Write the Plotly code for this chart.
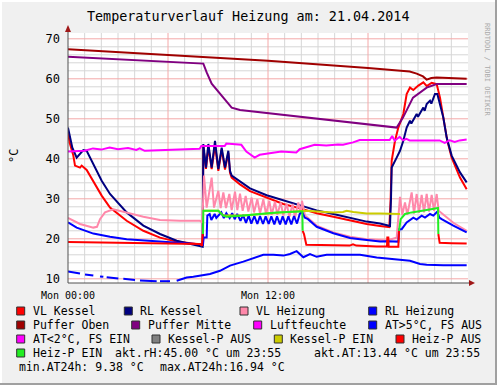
import plotly.graph_objects as go

# ---------------- data (hours since Mon 00:00, °C) ----------------
vl_kessel_t = [0, 0.1, 0.32, 0.42, 0.72, 0.82, 1.12, 1.52, 2.02, 2.52, 3.52, 4.52, 5.52, 6.52, 7.92, 8.08,
               8.12, 8.28, 8.42, 8.62, 8.82, 9.02, 9.22, 9.42, 9.62, 9.72, 9.82, 10.32, 10.92, 11.92, 12.92, 13.92,
               14.92, 15.92, 16.92, 17.92, 18.72, 19.28,
               19.36, 19.42, 19.62, 19.82, 20.12, 20.32, 20.52, 20.72, 21.02, 21.32, 21.52, 21.82, 22.12, 22.32,
               22.52, 22.76, 23.02, 23.52, 23.92]
vl_kessel_v = [46.6, 44.0, 40.8, 38.3, 37.8, 38.3, 37.2, 34.5, 30.8, 27.8, 24.5, 22.0, 20.3, 19.3, 18.7, 18.5,
               43.0, 37.5, 43.0, 37.4, 43.5, 37.0, 42.3, 37.3, 41.5, 36.5, 35.3, 33.6, 31.9, 30.2, 28.7, 27.6,
               26.4, 25.5, 24.6, 23.7, 23.2, 22.9,
               30.0, 39.5, 44.5, 47.8, 51.2, 56.2, 57.8, 57.2, 58.3, 59.1, 58.2, 59.0, 58.7, 55.3,
               50.3, 44.5, 40.3, 35.3, 32.4]

rl_kessel_t = [0, 0.26, 0.52, 0.72, 0.92, 1.12, 1.52, 2.02, 2.52, 3.52, 4.52, 5.52, 6.52, 7.92, 8.08,
               8.12, 8.28, 8.42, 8.62, 8.82, 9.02, 9.22, 9.42, 9.62, 9.72, 9.82, 10.32, 10.92, 11.92, 12.92, 13.92,
               14.92, 15.92, 16.92, 17.92, 18.72, 19.32,
               19.38, 19.42, 19.72, 19.92, 20.12, 20.32, 20.52, 20.6, 20.92, 21.0, 21.32, 21.4, 21.52, 21.72, 21.8,
               22.02, 22.16, 22.32, 22.52, 22.72, 23.02, 23.52, 23.92]
rl_kessel_v = [47.8, 42.8, 40.3, 41.2, 42.2, 42.0, 38.7, 34.5, 31.2, 26.6, 23.3, 21.2, 19.5, 18.3, 18.0,
               43.7, 37.8, 43.7, 37.8, 44.5, 37.4, 42.8, 37.8, 42.0, 37.0, 35.8, 34.3, 32.6, 30.9, 29.6, 28.4,
               27.1, 26.2, 25.2, 24.3, 23.8, 23.2,
               30.0, 37.8, 40.3, 42.0, 44.5, 47.8, 49.5, 48.8, 51.2, 50.5, 52.8, 52.0, 53.7, 54.5, 53.8,
               56.2, 56.2, 53.7, 50.3, 45.3, 40.8, 36.6, 34.1]

vl_heizung_t = [0, 0.72, 1.52, 1.74, 1.92, 2.22, 2.72, 3.52, 4.52, 5.52, 6.72, 7.92, 8.06,
                8.16, 8.32, 8.62, 8.76, 9.02, 9.16, 9.32, 9.48, 9.68, 9.82, 10.02, 10.16, 10.32, 10.48, 10.66,
                10.82, 11.02, 11.16, 11.36, 11.52, 11.72, 11.88, 12.08, 12.22, 12.42, 12.56, 12.76, 12.92, 13.12,
                13.28, 13.48, 13.62, 13.82, 13.96, 14.04, 14.22, 14.4,
                14.92, 15.92, 16.92, 17.92, 18.72, 19.12, 19.72,
                19.92, 20.06, 20.22, 20.36, 20.62, 20.76, 20.92, 21.06, 21.22, 21.36, 21.52, 21.66, 21.82, 21.96,
                22.12, 22.24, 22.52, 23.12, 23.92]
vl_heizung_v = [25.2, 23.7, 22.8, 23.0, 24.9, 26.6, 27.4, 26.6, 25.5, 24.7, 24.5, 24.5, 24.0,
                35.8, 27.8, 35.3, 27.8, 32.0, 27.7, 31.6, 27.7, 31.2, 27.2, 31.8, 27.2, 31.3, 27.0, 30.7,
                26.8, 30.3, 26.6, 29.9, 26.3, 29.9, 26.2, 29.5, 26.0, 29.3, 26.0, 29.1, 25.8, 28.8,
                25.5, 28.7, 25.3, 29.1, 26.2, 29.5, 25.8, 25.2,
                23.3, 21.6, 20.5, 19.9, 19.6, 19.6, 20.3,
                30.5, 26.0, 29.1, 26.0, 31.6, 26.3, 31.2, 26.5, 31.0, 26.6, 31.2, 26.8, 31.0, 27.0,
                31.2, 27.0, 26.0, 24.0, 22.0]

rl_heizung_t = [0, 0.52, 1.52, 2.52, 3.52, 5.52, 7.92, 8.1, 8.14, 8.32, 8.36,
                8.5, 8.6, 8.8, 8.9, 9.2, 9.35, 9.5, 9.7, 9.85, 10.0, 10.15, 10.35, 10.5, 10.68, 10.84, 11.0,
                11.18, 11.36, 11.52, 11.7, 11.86, 12.04, 12.2, 12.38, 12.54, 12.72, 12.88, 13.06, 13.22, 13.4,
                13.56, 13.74, 13.9, 14.04, 14.2, 14.4,
                14.92, 15.92, 16.92, 17.52, 18.72, 19.12, 19.82, 19.88, 20.02, 20.32, 20.52, 20.72, 20.92, 21.22,
                21.42, 21.72, 21.92, 22.16, 22.28, 22.42, 23.12, 23.92]
rl_heizung_v = [24.1, 22.8, 21.3, 20.5, 19.9, 19.3, 18.7, 18.6, 20.3, 20.3, 25.8,
                26.2, 24.7, 26.2, 25.2, 26.6, 25.2, 26.4, 25.2, 26.4, 24.9, 26.2, 24.5, 26.0, 24.0, 25.8, 23.8,
                25.7, 23.7, 25.7, 23.7, 25.6, 23.7, 25.6, 23.6, 25.6, 23.6, 25.6, 23.6, 25.6, 23.6,
                25.7, 23.8, 26.2, 26.8, 25.3, 24.9,
                23.0, 21.4, 20.2, 19.9, 19.3, 19.4, 19.3, 22.4, 22.4, 24.1, 24.7, 25.3, 24.8, 25.8,
                25.3, 26.2, 25.8, 26.8, 25.3, 24.9, 23.3, 21.6]

puffer_oben_t = [0, 6, 12, 18, 20.5, 20.92, 21.3, 21.52, 21.8, 22.12, 23.92]
puffer_oben_v = [67.4, 66.0, 64.5, 62.7, 61.8, 61.3, 60.6, 59.8, 60.2, 60.3, 60.0]

puffer_mitte_t = [0, 8.12, 8.32, 8.62, 9.32, 9.82, 10.32, 15.0, 19.72, 20.1, 20.7, 21.52, 22.12, 23.92]
puffer_mitte_v = [65.5, 63.8, 61.6, 58.8, 55.3, 52.8, 52.2, 50.0, 47.8, 50.3, 55.3, 57.8, 58.7, 58.7]

luftfeuchte_t = [0, 1.0, 1.5, 2.0, 2.5, 3.0, 3.6, 4.1, 4.3, 4.6, 5.0, 6.0, 7.9, 8.0, 9.4, 9.5, 10.4, 10.7,
                 11.2, 11.5, 12.3, 12.8, 13.7, 13.9, 14.8, 15.5, 16.2, 16.5, 17.1, 17.5, 19.3, 19.45, 19.6,
                 19.9, 20.1, 20.3, 20.5, 22.3, 22.6, 22.9, 23.2, 23.5, 23.92]
luftfeuchte_v = [41.8, 42.0, 42.6, 42.3, 42.8, 42.4, 42.7, 42.2, 42.6, 42.0, 42.1, 42.2, 42.5, 43.2, 43.2, 43.8,
                 43.5, 41.8, 40.3, 41.0, 41.6, 41.8, 41.6, 42.4, 43.5, 43.3, 43.6, 43.5, 44.1, 44.7, 44.7, 45.7,
                 44.5, 45.5, 44.6, 45.0, 44.6, 44.6, 44.0, 44.6, 44.2, 44.6, 44.8]

at_t = [0, 0.72, 0.8, 1.02, 1.52, 1.6, 1.92, 2.12, 2.2, 2.32, 3.02, 3.1, 3.32, 4.02, 4.1, 4.32, 5.32, 5.4,
        5.52, 6.12, 6.2, 6.52, 6.82, 7.12, 7.52, 7.92, 8.52, 9.12, 9.72, 10.52, 11.12, 11.72, 12.32, 12.92,
        13.32, 13.72, 14.12, 14.52, 14.92, 15.52, 16.52, 17.52, 18.52, 19.52, 20.52, 21.12, 21.52, 22.52, 23.92]
at_v = [11.8, 11.3, None, 11.1, 10.8, None, 10.6, 10.5, None, 10.4, 10.1, None, 10.0, 9.7, None, 9.6, 9.4,
        None, 9.4, 9.4, None, 9.5, 9.9, 10.3, 10.5, 10.8, 11.2, 12.0, 13.3, 14.3, 15.2, 16.0, 16.0, 15.8,
        16.2, 16.9, 15.4, 16.2, 15.5, 16.0, 16.0, 16.0, 15.3, 14.9, 14.5, 13.7, 13.5, 13.4, 13.4]

kessel_p_ein_t = [8.12, 9.02, 9.32, 10.52, 12.0, 13.92, 14.2, 15.0, 15.92, 16.5, 16.72, 17.12, 17.92, 18.72, 19.92]
kessel_p_ein_v = [27.0, 27.0, 25.8, 25.8, 26.3, 26.8, 27.0, 26.8, 26.6, 26.7, 27.0, 26.7, 26.3, 26.3, 26.2]

heiz_p_aus_t = [0, 4, 7.92, 8.04, 8.08, 8.1, 14.08, 14.16, 14.3, 16.0, 16.9, 17.1, 17.3, 18.5, 19.14, 19.16,
                19.22, 19.24, 19.82, 19.86, 19.9, 22.22, 22.3, 23.0, 23.92]
heiz_p_aus_v = [19.2, 19.0, 18.7, 18.3, 21.2, None, 22.0, 21.2, 18.5, 18.3, 18.3, 18.6, 18.3, 18.1, 18.1, 20.3,
                20.3, 18.0, 18.0, 22.0, None, 21.2, 19.0, 18.9, 18.8]

heiz_p_ein_t = [8.1, 8.12, 8.6, 9.02, 9.32, 9.52, 10.52, 11.52, 12.52, 13.92, 14.06, 14.08, 14.1,
                19.86, 19.92, 19.96, 20.22, 20.62, 21.52, 22.2, 22.22]
heiz_p_ein_v = [21.2, 27.0, 27.0, 27.0, 25.8, 25.5, 25.8, 26.2, 26.6, 26.8, 26.8, 22.0, None,
                22.0, 24.0, 24.9, 26.2, 26.6, 27.2, 27.7, 21.2]

x_tick_vals = [0, 12]
x_tick_text = ["Mon 00:00", "Mon 12:00"]
y_tick_vals = [10, 20, 30, 40, 50, 60, 70]

title_text = "Temperaturverlauf Heizung am: 21.04.2014"

legend_rows = [
    [("VL Kessel", "#FF0000", 30.7), ("RL Kessel", "#000080", 138.3), ("VL Heizung", "#FF88AA", 254.0),
     ("RL Heizung", "#0000FF", 382.7)],
    [("Puffer Oben", "#A00000", 30.7), ("Puffer Mitte", "#800080", 145.7), ("Luftfeuchte", "#FF00FF", 267.7),
     ("AT>5°C, FS AUS", "#0000FF", 382.7)],
    [("AT<2°C, FS EIN", "#FF00FF", 30.7), ("Kessel-P AUS", "#808080", 166.0), ("Kessel-P EIN", "#CCCC00", 288.3),
     ("Heiz-P AUS", "#FF0000", 410.0)],
    [("Heiz-P EIN", "#22EE22", 30.7)],
]
legend_texts = [
    ("akt.rH:45.00 °C um 23:55", 113.3, 3),
    ("akt.AT:13.44 °C um 23:55", 312.3, 3),
    ("min.AT24h: 9.38 °C", 16.7, 4),
    ("max.AT24h:16.94 °C", 158.3, 4),
]

# ---------------- geometry ----------------
W, H = 497, 385
PL, PR, PT, PB = 68, 468, 33, 283
MONO = "DejaVu Sans Mono"


def px(x):
    return (x - PL) / (PR - PL)


def py(y):
    return (PB - y) / (PB - PT)


fig = go.Figure()

series = [
    (vl_kessel_t, vl_kessel_v, "#FF0000"),
    (rl_kessel_t, rl_kessel_v, "#000080"),
    (vl_heizung_t, vl_heizung_v, "#FF88AA"),
    (rl_heizung_t, rl_heizung_v, "#0000FF"),
    (puffer_oben_t, puffer_oben_v, "#A00000"),
    (puffer_mitte_t, puffer_mitte_v, "#800080"),
    (luftfeuchte_t, luftfeuchte_v, "#FF00FF"),
    (at_t, at_v, "#0000FF"),
    (kessel_p_ein_t, kessel_p_ein_v, "#CCCC00"),
    (heiz_p_aus_t, heiz_p_aus_v, "#FF0000"),
    (heiz_p_ein_t, heiz_p_ein_v, "#22EE22"),
]
for t, v, c in series:
    fig.add_trace(go.Scatter(x=t, y=v, mode="lines", line=dict(color=c, width=2),
                             connectgaps=False, showlegend=False, hoverinfo="skip"))

shapes = []
annotations = []

# grid (minor gray, major red)
minor_col = "#D6D6D6"
major_col = "#F4A8A8"
for h in range(1, 24):
    if h % 6:
        shapes.append(dict(type="line", xref="x", yref="paper", x0=h, x1=h, y0=0, y1=1, layer="below",
                           line=dict(color=minor_col, width=1)))
for v in range(10, 71, 2):
    if v % 10:
        shapes.append(dict(type="line", xref="paper", yref="y", x0=0, x1=1, y0=v, y1=v, layer="below",
                           line=dict(color=minor_col, width=1)))
for h in (6, 12, 18):
    shapes.append(dict(type="line", xref="x", yref="paper", x0=h, x1=h, y0=0, y1=1, layer="below",
                       line=dict(color=major_col, width=1)))
for v in y_tick_vals:
    shapes.append(dict(type="line", xref="paper", yref="y", x0=0, x1=1, y0=v, y1=v, layer="below",
                       line=dict(color=major_col, width=1)))

# axis lines + arrows
axis_col = "#505050"
arrow_col = "#A01818"
shapes.append(dict(type="line", xref="paper", yref="paper", x0=px(PL), x1=px(PL), y0=py(PB), y1=py(29),
                   line=dict(color=axis_col, width=1)))
shapes.append(dict(type="line", xref="paper", yref="paper", x0=px(PL), x1=px(471), y0=py(PB), y1=py(PB),
                   line=dict(color=axis_col, width=1)))
shapes.append(dict(type="path", xref="paper", yref="paper",
                   path=f"M {px(65)} {py(32)} L {px(71)} {py(32)} L {px(68)} {py(25)} Z",
                   fillcolor=arrow_col, line=dict(color=arrow_col, width=0)))
shapes.append(dict(type="path", xref="paper", yref="paper",
                   path=f"M {px(469)} {py(280)} L {px(469)} {py(286)} L {px(475)} {py(283)} Z",
                   fillcolor=arrow_col, line=dict(color=arrow_col, width=0)))

# outer border (rrdtool style)
shapes.append(dict(type="rect", xref="paper", yref="paper", x0=px(495), x1=px(497), y0=py(385), y1=py(0),
                   fillcolor="#A0A0A0", line=dict(width=0)))
shapes.append(dict(type="rect", xref="paper", yref="paper", x0=px(0), x1=px(497), y0=py(385), y1=py(383),
                   fillcolor="#A0A0A0", line=dict(width=0)))
shapes.append(dict(type="rect", xref="paper", yref="paper", x0=px(0), x1=px(2), y0=py(383), y1=py(0),
                   fillcolor="#FFFFFF", line=dict(width=0)))
shapes.append(dict(type="rect", xref="paper", yref="paper", x0=px(0), x1=px(495), y0=py(2), y1=py(0),
                   fillcolor="#FFFFFF", line=dict(width=0)))

# legend
row_y = [311, 325, 339, 353, 367]
for r, row in enumerate(legend_rows):
    yy = row_y[r]
    for label, color, tx in row:
        bx = tx - 14
        shapes.append(dict(type="rect", xref="paper", yref="paper", x0=px(bx), x1=px(bx + 8),
                           y0=py(yy + 4), y1=py(yy - 4), fillcolor=color,
                           line=dict(color="#303030", width=1)))
        annotations.append(dict(text=label, xref="paper", yref="paper", x=px(tx), y=py(yy),
                                xanchor="left", yanchor="middle", showarrow=False,
                                font=dict(family=MONO, size=11.5, color="#000000")))
for label, tx, r in legend_texts:
    annotations.append(dict(text=label, xref="paper", yref="paper", x=px(tx), y=py(row_y[r]),
                            xanchor="left", yanchor="middle", showarrow=False,
                            font=dict(family=MONO, size=11.5, color="#000000")))

# title, unit, watermark
annotations.append(dict(text=title_text, xref="paper", yref="paper", x=px(248), y=py(17),
                        xanchor="center", yanchor="middle", showarrow=False,
                        font=dict(family=MONO, size=13.4, color="#000000")))
annotations.append(dict(text="°C", xref="paper", yref="paper", x=px(14), y=py(156), textangle=-90,
                        xanchor="center", yanchor="middle", showarrow=False,
                        font=dict(family=MONO, size=12, color="#000000")))
annotations.append(dict(text="RRDTOOL / TOBI OETIKER", xref="paper", yref="paper", x=px(487), y=py(70),
                        textangle=90, xanchor="center", yanchor="middle", showarrow=False,
                        font=dict(family=MONO, size=7, color="#AAAAAA")))

fig.update_layout(
    width=W, height=H,
    margin=dict(l=PL, r=W - PR, t=PT, b=H - PB, pad=0),
    paper_bgcolor="#F0F0F0", plot_bgcolor="#FFFFFF",
    showlegend=False,
    shapes=shapes, annotations=annotations,
    xaxis=dict(range=[0, 24], tickmode="array", tickvals=x_tick_vals, ticktext=x_tick_text,
               showgrid=False, zeroline=False, showline=False,
               ticks="", ticklabelstandoff=5,
               tickfont=dict(family=MONO, size=10, color="#000000")),
    yaxis=dict(range=[8.95, 71.45], tickmode="array", tickvals=y_tick_vals,
               ticktext=[str(v) for v in y_tick_vals],
               showgrid=False, zeroline=False, showline=False,
               ticks="", ticklabelstandoff=7,
               tickfont=dict(family=MONO, size=12, color="#000000")),
)

fig.write_html("out.html", config={"displayModeBar": False},
               post_script="document.body.style.margin='0';document.body.style.padding='0';")
